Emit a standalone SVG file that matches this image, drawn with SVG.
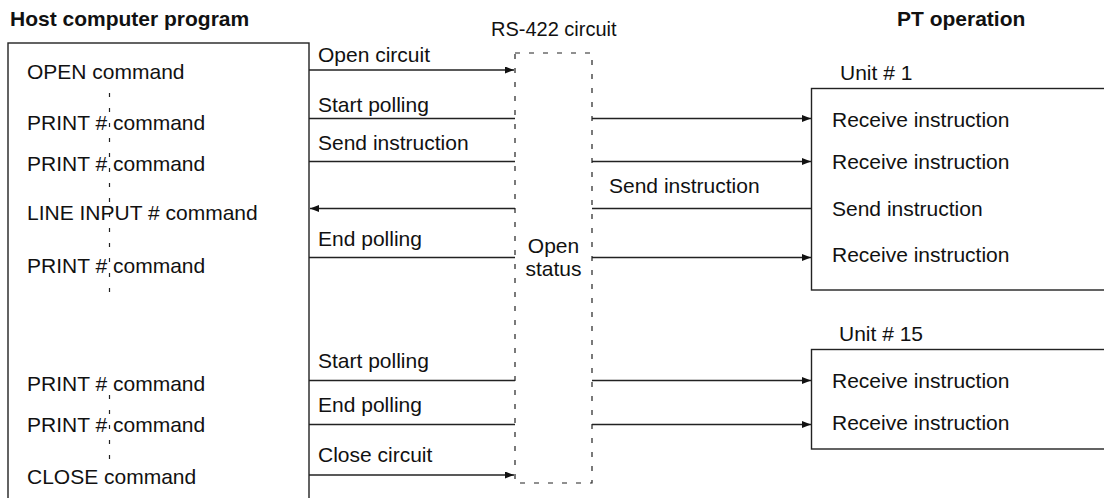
<svg xmlns="http://www.w3.org/2000/svg" width="1104" height="498" viewBox="0 0 1104 498">
<style>
text{font-family:"Liberation Sans",Arial,sans-serif;font-size:21px;fill:#111}
.b{font-weight:bold}
.box{fill:none;stroke:#222;stroke-width:1.4}
.dash{fill:none;stroke:#222;stroke-width:1.2;stroke-dasharray:5 9}
.vd{fill:none;stroke:#222;stroke-width:1.2;stroke-dasharray:4 11}
.ln{fill:none;stroke:#222;stroke-width:1.3}
.ar{marker-end:url(#ah)}
</style>
<defs>
<marker id="ah" markerUnits="userSpaceOnUse" markerWidth="10" markerHeight="8" refX="9" refY="3.5" orient="auto">
<path d="M0,0 L9,3.5 L0,7 z" fill="#111"/>
</marker>
</defs>
<rect width="1104" height="498" fill="#fff"/>
<text class="b" x="10" y="26">Host computer program</text>
<text x="491" y="36" style="font-size:20px">RS-422 circuit</text>
<text class="b" x="897" y="26">PT operation</text>

<g id="host">
<rect class="box" x="8" y="43" width="301" height="470"/>
<path class="vd" d="M109.5,93 V300 M109.5,395 V468"/>
<text x="27" y="79">OPEN command</text>
<text x="27" y="130">PRINT # command</text>
<text x="27" y="171">PRINT # command</text>
<text x="27" y="220">LINE INPUT # command</text>
<text x="27" y="273">PRINT # command</text>
<text x="27" y="391">PRINT # command</text>
<text x="27" y="432">PRINT # command</text>
<text x="27" y="484">CLOSE command</text>
</g>

<g id="rs422">
<rect class="dash" x="515" y="53" width="77" height="430"/>
<text x="553.5" y="253" text-anchor="middle">Open</text>
<text x="553.5" y="276" text-anchor="middle">status</text>
</g>

<g id="unit1">
<text x="840" y="80">Unit # 1</text>
<rect class="box" x="811.5" y="88.5" width="320" height="201.5"/>
<text x="832" y="127">Receive instruction</text>
<text x="832" y="169">Receive instruction</text>
<text x="832" y="216">Send instruction</text>
<text x="832" y="262">Receive instruction</text>
</g>

<g id="unit15">
<text x="839" y="341">Unit # 15</text>
<rect class="box" x="811.5" y="349.5" width="320" height="99.5"/>
<text x="832" y="388">Receive instruction</text>
<text x="832" y="430">Receive instruction</text>
</g>

<g id="connectors">
<path class="ln ar" d="M309,70 H514"/>
<path class="ln" d="M309,118.5 H515"/>
<path class="ln ar" d="M592,118.5 H811"/>
<path class="ln" d="M309,161.5 H515"/>
<path class="ln ar" d="M592,161.5 H811"/>
<path class="ln ar" d="M515,208.5 H310"/>
<path class="ln" d="M811,208.5 H592"/>
<path class="ln" d="M309,257.5 H515"/>
<path class="ln ar" d="M592,257.5 H811"/>
<path class="ln" d="M309,380.5 H515"/>
<path class="ln ar" d="M592,380.5 H811"/>
<path class="ln" d="M309,424.5 H515"/>
<path class="ln ar" d="M592,424.5 H811"/>
<path class="ln ar" d="M309,475 H514"/>
<text x="318" y="62">Open circuit</text>
<text x="318" y="112">Start polling</text>
<text x="318" y="150">Send instruction</text>
<text x="609" y="193">Send instruction</text>
<text x="318" y="246">End polling</text>
<text x="318" y="368">Start polling</text>
<text x="318" y="412">End polling</text>
<text x="318" y="462">Close circuit</text>
</g>
</svg>
